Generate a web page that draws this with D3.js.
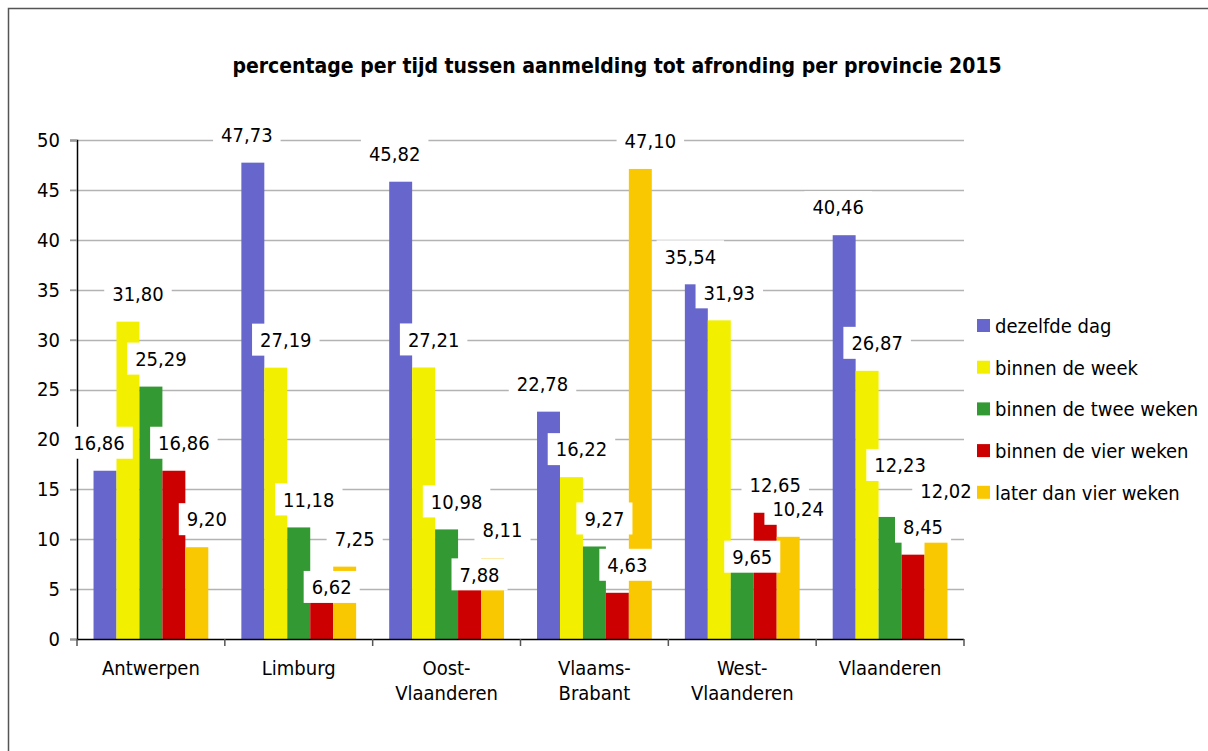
<!DOCTYPE html>
<html>
<head>
<meta charset="utf-8">
<style>
  body { margin: 0; background: #fff; }
  text { font-family: Tahoma, "DejaVu Sans Condensed", "DejaVu Sans", sans-serif; fill: #000; }
</style>
<script src="https://d3js.org/d3.v7.min.js"></script>
</head>
<body>
<script>
const categories = ["Antwerpen", "Limburg", "Oost-Vlaanderen", "Vlaams-Brabant", "West-Vlaanderen", "Vlaanderen"];
const seriesNames = ["dezelfde dag", "binnen de week", "binnen de twee weken", "binnen de vier weken", "later dan vier weken"];
const dezelfdeDag = [16.86, 47.73, 45.82, 22.78, 35.54, 40.46];
const binnenWeek = [31.80, 27.19, 27.21, 16.22, 31.93, 26.87];
const binnenTweeWeken = [25.29, 11.18, 10.98, 9.27, 9.65, 12.23];
const binnenVierWeken = [16.86, 6.62, 7.88, 4.63, 12.65, 8.45];
const laterDanVierWeken = [9.20, 7.25, 8.11, 47.10, 10.24, 12.02];
const yTicks = [0, 5, 10, 15, 20, 25, 30, 35, 40, 45, 50];

const seriesValues = [dezelfdeDag, binnenWeek, binnenTweeWeken, binnenVierWeken, laterDanVierWeken];
const colors = ["#6666cc", "#f2f000", "#339933", "#cc0000", "#fac800"];

const W = 1208, H = 751;
const plot = {left: 77, right: 964, top: 140, bottom: 639};

const svg = d3.select("body").append("svg")
  .attr("width", W).attr("height", H);

// outer chart border
svg.append("rect")
  .attr("x", 8.5).attr("y", 8.5)
  .attr("width", W + 10).attr("height", H + 10)
  .attr("fill", "none").attr("stroke", "#555").attr("stroke-width", 1.5);

svg.append("text")
  .attr("x", 617).attr("y", 73)
  .attr("text-anchor", "middle")
  .style("font-size", "21px").style("font-weight", "bold")
  .text("percentage per tijd tussen aanmelding tot afronding per provincie 2015");

const x0 = d3.scaleBand().domain(categories).range([plot.left, plot.right]);
const x1 = d3.scaleBand().domain(d3.range(seriesNames.length))
  .range([0, x0.bandwidth()]).paddingOuter(0.72).paddingInner(0);
const y = d3.scaleLinear().domain([0, 50]).range([plot.bottom, plot.top]);

// gridlines
svg.append("g").selectAll("line").data(yTicks.slice(1)).join("line")
  .attr("x1", plot.left - 7).attr("x2", plot.right)
  .attr("y1", d => Math.round(y(d)) + 0.5).attr("y2", d => Math.round(y(d)) + 0.5)
  .attr("stroke", "#b3b3b3").attr("stroke-width", 1.5);

// y axis
const yAxis = svg.append("g")
  .attr("transform", `translate(${plot.left},0)`)
  .call(d3.axisLeft(y).tickValues(yTicks).tickSize(7).tickPadding(10).tickFormat(d3.format("d")));
yAxis.select(".domain").attr("stroke", "#000").attr("stroke-width", 1.5);
yAxis.selectAll(".tick line").attr("stroke", "#999").attr("stroke-width", 1.5);
yAxis.selectAll(".tick text").style("font-size", "20px").style("font-family", null);

// bars
const rows = [];
seriesValues.forEach((vals, i) => {
  vals.forEach((v, j) => rows.push({s: i, c: categories[j], v: v}));
});

svg.append("g").selectAll("rect").data(rows).join("rect")
  .attr("x", d => x0(d.c) + x1(d.s))
  .attr("width", x1.bandwidth())
  .attr("y", d => y(d.v))
  .attr("height", d => y(0) - y(d.v))
  .attr("fill", d => colors[d.s]);

// x axis
svg.append("line")
  .attr("x1", plot.left).attr("x2", plot.right)
  .attr("y1", plot.bottom + 0.5).attr("y2", plot.bottom + 0.5)
  .attr("stroke", "#000").attr("stroke-width", 1.5);
const bounds = categories.map(c => x0(c)).concat([plot.right]);
svg.append("g").selectAll("line").data(bounds).join("line")
  .attr("x1", d => d).attr("x2", d => d)
  .attr("y1", plot.bottom).attr("y2", plot.bottom + 7)
  .attr("stroke", "#555").attr("stroke-width", 1.5);

svg.append("g").selectAll("text").data(categories).join("text")
  .attr("x", d => x0(d) + x0.bandwidth() / 2)
  .attr("y", 675)
  .attr("text-anchor", "middle")
  .style("font-size", "20px")
  .each(function(d) {
    const parts = d.includes("-") ? [d.slice(0, d.indexOf("-") + 1), d.slice(d.indexOf("-") + 1)] : [d];
    d3.select(this).selectAll("tspan").data(parts).join("tspan")
      .attr("x", x0(d) + x0.bandwidth() / 2)
      .attr("dy", (p, k) => k === 0 ? 0 : 25)
      .text(p => p);
  });

// data labels with white boxes
const fmt = v => d3.format(".2f")(v).replace(".", ",");
const lab = svg.append("g").selectAll("g").data(rows).join("g");
lab.append("rect").attr("fill", "#fff");
lab.append("text")
  .attr("text-anchor", "middle").attr("dy", "0.36em")
  .style("font-size", "20px")
  .text(d => fmt(d.v));

// place labels above the bar; on a clash try inside the bar, then higher up
lab.each(function(d) {
  d.w = d3.select(this).select("text").node().getComputedTextLength();
  d.cx = x0(d.c) + x1(d.s) + x1.bandwidth() / 2 + (d.s === 0 ? -6 : 10);
});
categories.forEach(c => {
  const placed = [];
  rows.filter(r => r.c === c).reverse().forEach(r => {
    const top = y(r.v);
    const spots = [top - 28, top + 14, top - 52, top - 76];
    const hit = p => Math.abs(p.cx - r.cx) < (p.w + r.w) / 2 + 2 && Math.abs(p.cy - r.cy) < 20;
    for (const s of spots) {
      r.cy = s;
      if (!placed.some(hit)) break;
    }
    placed.push(r);
  });
});
lab.attr("transform", d => `translate(${d.cx},${d.cy})`);
lab.select("rect")
  .attr("x", d => -d.w / 2 - 8).attr("y", -16)
  .attr("width", d => d.w + 16).attr("height", 32);

// legend
const leg = svg.append("g").selectAll("g").data(seriesNames).join("g")
  .attr("transform", (d, i) => `translate(977,${326 + i * 41.7})`);
leg.append("rect").attr("x", 0).attr("y", -7).attr("width", 13).attr("height", 13)
  .attr("fill", (d, i) => colors[i]);
leg.append("text").attr("x", 18).attr("dy", "0.35em")
  .style("font-size", "20px").text(d => d);
</script>
</body>
</html>
